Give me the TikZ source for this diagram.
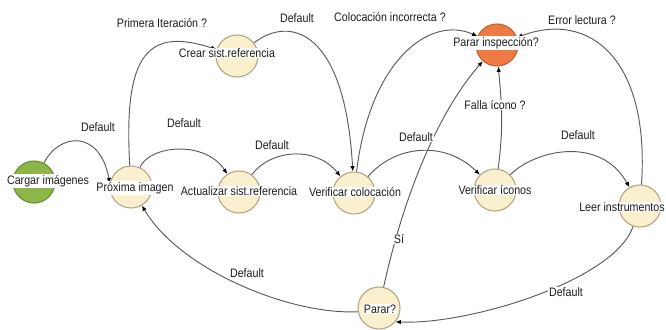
\documentclass[tikz,border=0pt]{standalone}
\usepackage{fontspec}
\setmainfont{Liberation Sans}[FakeStretch=0.87]
\usetikzlibrary{arrows.meta}

\begin{document}
\begin{tikzpicture}[x=0.75pt,y=0.75pt,yscale=-1,xscale=1,
	state/.style={circle,draw={rgb, 255:red, 175; green, 165; blue, 135 },line width=0.8pt,
		fill={rgb, 255:red, 250; green, 240; blue, 206 },minimum size=31.5pt,inner sep=0pt},
	start/.style={state,draw={rgb, 255:red, 105; green, 140; blue, 60 },fill={rgb, 255:red, 140; green, 183; blue, 72 }},
	halt/.style={state,draw={rgb, 255:red, 190; green, 95; blue, 50 },fill={rgb, 255:red, 238; green, 122; blue, 68 }},
	txt/.style={fill=white,inner sep=0.6pt,text={rgb, 255:red, 30; green, 30; blue, 30 },font=\fontsize{9.2}{11}\selectfont},
	link/.style={draw={rgb, 255:red, 90; green, 90; blue, 90 },line width=0.7pt,
		-{Latex[length=4pt,width=3.4pt,color=black]}}]
	\useasboundingbox (0,0) rectangle (666,329);
	
	%States
	\node [start] (cargar) at (34,182) {};
	\node [state] (proxima) at (131,187) {};
	\node [state] (crear) at (237,56) {};
	\node [state] (actualizar) at (239,192) {};
	\node [state] (verifcol) at (354,193) {};
	\node [halt] (pararinsp) at (497,45) {};
	\node [state] (verificon) at (495,190) {};
	\node [state] (leer) at (640,206) {};
	\node [state] (parar) at (379,308) {};
	
	%Curve Lines
	\path [link] (cargar) .. controls (60,132) and (100,130) .. (proxima.170);
	\path [link] (proxima) .. controls (123,50) and (150,28) .. (crear);
	\path [link] (crear) .. controls (290,15) and (345,30) .. (verifcol);
	\path [link] (proxima) .. controls (150,145) and (205,140) .. (actualizar);
	\path [link] (actualizar) .. controls (270,150) and (315,145) .. (verifcol);
	\path [link] (verifcol) .. controls (370,60) and (430,15) .. (pararinsp);
	\path [link] (verifcol) .. controls (395,145) and (445,140) .. (verificon);
	\path [link] (parar) .. controls (405,190) and (440,110) .. (pararinsp);
	\path [link] (verificon) .. controls (505,120) and (500,90) .. (pararinsp);
	\path [link] (verificon) .. controls (535,150) and (600,135) .. (leer);
	\path [link] (leer) .. controls (650,60) and (590,10) .. (pararinsp);
	\path [link] (leer) .. controls (615,280) and (470,325) .. (parar.-40);
	\path [link] (parar.190) .. controls (290,315) and (180,270) .. (proxima);
	
	% Text Node
	\node [txt] (tcargar) at (48,181) {Cargar imágenes};
	\node [txt] (tproxima) at (135,188) {Próxima imagen};
	\node [txt] (tcrear) at (227,53) {Crear sist.referencia};
	\node [txt] (tactualizar) at (239,191) {Actualizar sist.referencia};
	\node [txt] (tverifcol) at (355,192) {Verificar colocación};
	\node [txt] (tpararinsp) at (496,43) {Parar inspección?};
	\node [txt] (tverificon) at (495,190) {Verificar íconos};
	\node [txt] (tleer) at (622,207) {Leer instrumentos};
	\node [txt] (tparar) at (380,309) {Parar?};
	
	% Text Node
	\node [txt] (l1) at (98,127) {Default};
	\node [txt] (l2) at (162,23) {Primera Iteración ?};
	\node [txt] (l3) at (297,18) {Default};
	\node [txt] (l4) at (184,123) {Default};
	\node [txt] (l5) at (272,145) {Default};
	\node [txt] (l6) at (390,17) {Colocación incorrecta ?};
	\node [txt] (l7) at (416,137) {Default};
	\node [txt] (l8) at (399,239) {Sí};
	\node [txt] (l9) at (495,105) {Falla ícono ?};
	\node [txt] (l10) at (578,135) {Default};
	\node [txt] (l11) at (582,20) {Error lectura ?};
	\node [txt] (l12) at (566,292) {Default};
	\node [txt] (l13) at (247,273) {Default};
	
\end{tikzpicture}
\end{document}
